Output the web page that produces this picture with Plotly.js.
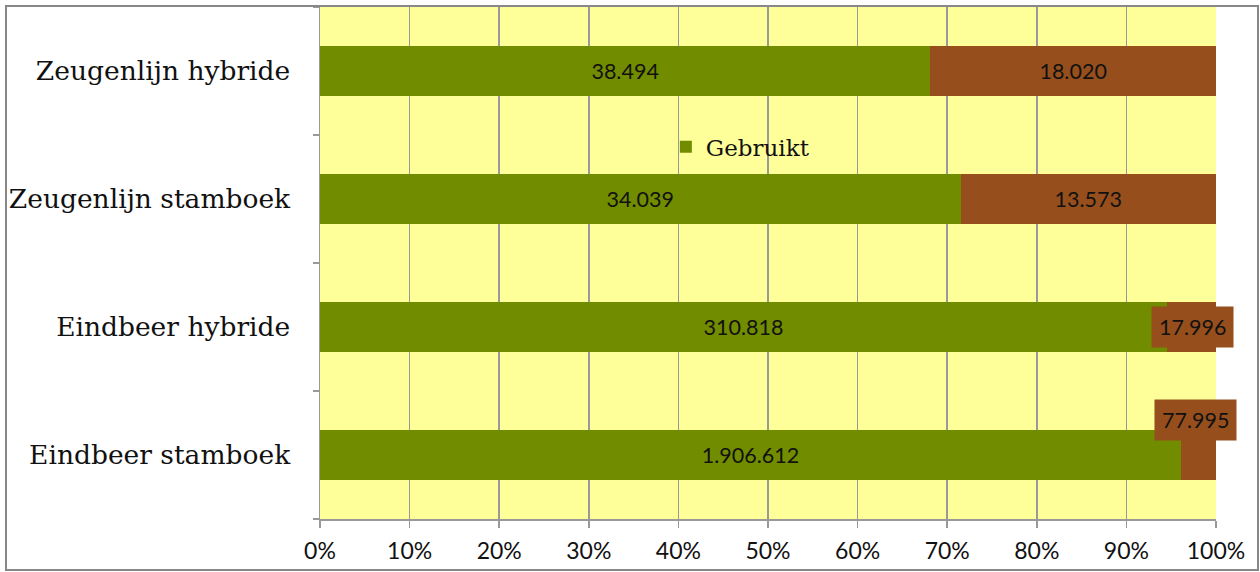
<!DOCTYPE html>
<html><head><meta charset="utf-8">
<script src="https://cdn.plot.ly/plotly-3.0.1.min.js"></script>
<style>html,body{margin:0;padding:0;background:#fff;}#chart{width:1260px;height:572px;}</style>
</head><body><div id="chart"></div>
<script>
const categories = ["Eindbeer stamboek", "Eindbeer hybride", "Zeugenlijn stamboek", "Zeugenlijn hybride"];
const gebruikt = [1906612, 310818, 34039, 38494];
const overig = [77995, 17996, 13573, 18020];
const seriesNames = ["Gebruikt", "Niet gebruikt"];

function nl(v){ return String(v).replace(/\B(?=(\d{3})+(?!\d))/g, "."); }

const green = "#728C00", brown = "#964F1C";
const numFont = {family: "Lato, 'Open Sans', sans-serif", size: 21.5, color: "#111"};
const serif = "'DejaVu Serif', serif";

// small segments get a floating label
const smallIdx = [0, 1];
const brownText = overig.map((v, i) => smallIdx.includes(i) ? "" : nl(v));

const traces = [
  {type: "bar", orientation: "h", name: seriesNames[0], y: categories, x: gebruikt,
   marker: {color: green}, text: gebruikt.map(nl), textposition: "inside", insidetextanchor: "middle",
   textfont: numFont, hoverinfo: "none", cliponaxis: false},
  {type: "bar", orientation: "h", name: seriesNames[1], y: categories, x: overig,
   marker: {color: brown}, text: brownText, textposition: "inside", insidetextanchor: "middle",
   textfont: numFont, hoverinfo: "none", showlegend: false}
];

const annotations = smallIdx.map(i => {
  const tot = gebruikt[i] + overig[i];
  const g = gebruikt[i] / tot * 100;
  const mid = g + (100 - g) / 2;
  return {x: mid, y: categories[i], xref: "x", yref: "y", text: nl(overig[i]), showarrow: false,
    bgcolor: brown, font: numFont, borderpad: 7, yshift: i === 0 ? 35 : 0, xshift: i === 0 ? -3 : 1};
});

const layout = {
  width: 1260, height: 572,
  margin: {l: 320, r: 44, t: 7, b: 53},
  paper_bgcolor: "#fff", plot_bgcolor: "#FFFF99",
  barmode: "stack", barnorm: "percent", bargap: 0.61,
  showlegend: true,
  legend: {x: 0.386, y: 0.727, xanchor: "left", yanchor: "middle", bgcolor: "rgba(0,0,0,0)",
    font: {family: serif, size: 23, color: "#111"}, itemwidth: 30},
  xaxis: {range: [0, 100], dtick: 10, ticksuffix: "%", showgrid: true, gridcolor: "#999", gridwidth: 1.5,
    zeroline: false, showline: true, linecolor: "#999", linewidth: 1.5,
    ticks: "outside", ticklen: 7, tickcolor: "#999", tickwidth: 1.5,
    tickfont: Object.assign({}, numFont, {size: 23}), ticklabelstandoff: 4, fixedrange: true},
  yaxis: {type: "category", showgrid: false, showline: true, linecolor: "#999", linewidth: 1.5,
    ticks: "outside", tickson: "boundaries", ticklen: 6, tickcolor: "#999", tickwidth: 1.5,
    tickfont: {family: serif, size: 26.5, color: "#111"}, ticklabelstandoff: 23, fixedrange: true},
  annotations: annotations,
  shapes: [{type: "rect", xref: "paper", yref: "paper",
    x0: (6 - 320) / 896, x1: (1258 - 320) / 896, y0: (519 - 570) / 512, y1: (519 - 6) / 512,
    line: {color: "#888", width: 2}, fillcolor: "rgba(0,0,0,0)", layer: "above"}]
};

Plotly.newPlot("chart", traces, layout, {displayModeBar: false, staticPlot: true});
</script></body></html>
